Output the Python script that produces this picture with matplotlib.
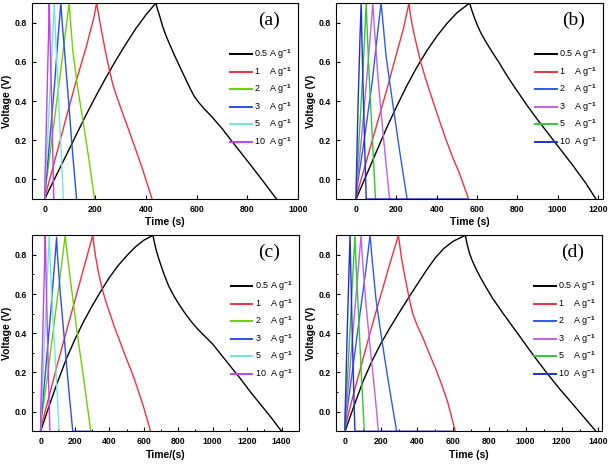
import matplotlib
matplotlib.use("Agg")
import matplotlib.pyplot as plt
from matplotlib.ticker import MultipleLocator

plt.rcParams['font.family'] = 'Liberation Sans'
plt.rcParams['font.weight'] = 'bold'
plt.rcParams['mathtext.fontset'] = 'custom'
plt.rcParams['mathtext.rm'] = 'Liberation Sans'
plt.rcParams['mathtext.it'] = 'Liberation Sans:italic'

rates = ["0.5 A g$^{-1}$", "1    A g$^{-1}$", "2    A g$^{-1}$",
         "3    A g$^{-1}$", "5    A g$^{-1}$", "10  A g$^{-1}$"]

# ---- panel (a) ----
t_a05 = [0, 40, 80, 120, 160, 200, 240, 280, 320, 360, 400, 439,
         445, 455, 466, 480, 495, 510, 530, 550, 570, 590, 610, 630, 660, 700, 742, 800, 860, 915]
v_a05 = [-0.1, 0.005, 0.11, 0.215, 0.32, 0.42, 0.515, 0.605, 0.69, 0.77, 0.84, 0.9,
         0.87, 0.83, 0.78, 0.73, 0.685, 0.64, 0.585, 0.53, 0.475, 0.425, 0.39, 0.36, 0.32, 0.26, 0.19, 0.095, -0.005, -0.1]
t_a1 = [0, 3, 45, 84, 124, 165, 195, 205, 212, 220, 230, 242, 255, 270, 288, 310, 334, 360, 387, 424]
v_a1 = [-0.1, -0.08, 0.12, 0.31, 0.5, 0.68, 0.83, 0.9, 0.85, 0.79, 0.72, 0.64, 0.56, 0.48, 0.41, 0.33, 0.245, 0.15, 0.05, -0.1]
t_a2 = [0, 2, 30, 60, 85, 97, 103, 111, 130, 150, 175, 197]
v_a2 = [-0.1, -0.06, 0.22, 0.52, 0.78, 0.9, 0.79, 0.66, 0.47, 0.31, 0.10, -0.1]
t_a3 = [0, 2, 20, 40, 55, 64, 68, 80, 95, 110, 126]
v_a3 = [-0.1, -0.06, 0.2, 0.5, 0.76, 0.9, 0.82, 0.63, 0.39, 0.14, -0.1]
t_a5 = [0, 1, 12, 25, 38, 41, 50, 62, 74]
v_a5 = [-0.1, -0.05, 0.22, 0.55, 0.9, 0.8, 0.55, 0.22, -0.1]
t_a10 = [0, 1, 8, 15, 18, 20, 26, 31, 36]
v_a10 = [-0.1, -0.02, 0.35, 0.72, 0.9, 0.8, 0.48, 0.2, -0.1]

# ---- panel (b) ----
t_b05 = [0, 50, 100, 150, 200, 250, 300, 350, 400, 450, 500, 563,
         572, 585, 600, 620, 645, 675, 710, 745, 780, 810, 850, 900, 960, 1020, 1080, 1140, 1190]
v_b05 = [-0.1, 0.02, 0.14, 0.26, 0.37, 0.475, 0.57, 0.655, 0.73, 0.795, 0.85, 0.9,
         0.87, 0.83, 0.79, 0.745, 0.70, 0.65, 0.595, 0.535, 0.48, 0.435, 0.375, 0.305, 0.225, 0.145, 0.065, -0.02, -0.1]
t_b1 = [0, 5, 50, 100, 150, 200, 235, 262, 268, 278, 290, 305, 320, 340, 360, 381, 410, 447, 480, 513, 558]
v_b1 = [-0.1, -0.07, 0.09, 0.27, 0.45, 0.64, 0.77, 0.9, 0.85, 0.79, 0.73, 0.665, 0.6, 0.53, 0.465, 0.4, 0.31, 0.2, 0.11, 0.03, -0.1]
t_b2 = [0, 3, 40, 80, 110, 124, 135, 149, 180, 215, 253]
v_b2 = [-0.1, -0.05, 0.2, 0.5, 0.78, 0.9, 0.78, 0.625, 0.4, 0.15, -0.1]
t_b3 = [0, 2, 30, 60, 83, 90, 110, 135, 166]
v_b3 = [-0.1, -0.05, 0.25, 0.6, 0.9, 0.78, 0.5, 0.22, -0.1]
t_b5 = [0, 1, 20, 40, 50, 54, 65, 80, 96]
v_b5 = [-0.1, -0.03, 0.3, 0.68, 0.9, 0.78, 0.52, 0.22, -0.1]
t_b10 = [0, 1, 10, 20, 25, 28, 35, 43, 50, 555]
v_b10 = [-0.1, 0.0, 0.4, 0.75, 0.9, 0.75, 0.45, 0.15, -0.1, -0.1]

# ---- panel (c) ----
t_c05 = [0, 50, 100, 150, 200, 250, 300, 350, 400, 450, 500, 550, 600, 653,
         660, 670, 685, 700, 720, 745, 775, 810, 845, 880, 920, 960, 1000, 1050, 1100, 1160, 1220, 1280, 1340, 1400]
v_c05 = [-0.1, 0.03, 0.155, 0.27, 0.37, 0.46, 0.54, 0.615, 0.685, 0.745, 0.795, 0.84, 0.875, 0.9,
         0.87, 0.83, 0.785, 0.745, 0.695, 0.64, 0.59, 0.54, 0.495, 0.455, 0.415, 0.38, 0.345, 0.29, 0.235, 0.17, 0.1, 0.035, -0.03, -0.1]
t_c1 = [0, 8, 50, 100, 150, 200, 250, 303, 310, 320, 332, 345, 360, 380, 407, 430, 456, 490, 533, 565, 600, 639]
v_c1 = [-0.1, -0.06, 0.08, 0.25, 0.41, 0.57, 0.73, 0.9, 0.85, 0.79, 0.73, 0.675, 0.62, 0.56, 0.49, 0.43, 0.37, 0.29, 0.195, 0.115, 0.02, -0.1]
t_c2 = [0, 3, 40, 80, 115, 143, 150, 175, 210, 250, 292]
v_c2 = [-0.1, -0.05, 0.18, 0.46, 0.7, 0.9, 0.84, 0.66, 0.42, 0.17, -0.1]
t_c3 = [0, 2, 30, 60, 80, 93, 98, 115, 140, 165, 187, 290]
v_c3 = [-0.1, -0.05, 0.22, 0.52, 0.74, 0.89, 0.8, 0.6, 0.35, 0.1, -0.1, -0.1]
t_c5 = [0, 1, 15, 35, 50, 54, 70, 90, 108]
v_c5 = [-0.1, -0.05, 0.2, 0.6, 0.9, 0.8, 0.5, 0.2, -0.1]
t_c10 = [0, 1, 10, 20, 27, 30, 38, 46, 54]
v_c10 = [-0.1, 0.0, 0.3, 0.65, 0.9, 0.78, 0.45, 0.17, -0.1]

# ---- panel (d) ----
t_d05 = [0, 50, 100, 150, 200, 250, 300, 350, 400, 450, 500, 550, 600, 667,
         675, 689, 705, 725, 750, 781, 820, 873, 920, 966, 1010, 1058, 1120, 1190, 1260, 1330, 1390]
v_d05 = [-0.1, 0.03, 0.155, 0.26, 0.35, 0.43, 0.505, 0.578, 0.65, 0.72, 0.785, 0.835, 0.87, 0.9,
         0.86, 0.81, 0.77, 0.73, 0.685, 0.635, 0.575, 0.505, 0.445, 0.387, 0.33, 0.27, 0.195, 0.115, 0.04, -0.035, -0.1]
t_d1 = [0, 5, 50, 100, 150, 200, 250, 296, 303, 312, 325, 338, 355, 375, 400, 430, 465, 504, 535, 570, 611]
v_d1 = [-0.1, -0.06, 0.1, 0.27, 0.44, 0.6, 0.76, 0.9, 0.85, 0.79, 0.72, 0.66, 0.58, 0.5, 0.44, 0.38, 0.3, 0.215, 0.14, 0.045, -0.1]
t_d2 = [0, 3, 40, 80, 115, 139, 150, 172, 200, 227, 255, 286]
v_d2 = [-0.1, -0.05, 0.2, 0.48, 0.72, 0.9, 0.78, 0.57, 0.39, 0.23, 0.07, -0.1]
t_d3 = [0, 2, 30, 60, 89, 95, 115, 140, 165, 185]
v_d3 = [-0.1, -0.05, 0.25, 0.58, 0.9, 0.8, 0.56, 0.32, 0.1, -0.1]
t_d5 = [0, 1, 20, 40, 55, 59, 72, 90, 107]
v_d5 = [-0.1, -0.03, 0.28, 0.64, 0.9, 0.8, 0.55, 0.2, -0.1]
t_d10 = [0, 1, 12, 22, 28, 32, 40, 48, 55, 600]
v_d10 = [-0.1, 0.0, 0.4, 0.72, 0.9, 0.72, 0.4, 0.12, -0.1, -0.1]

colors_ac = ['black', '#f0303c', '#6cd000', '#2a4ee8', '#70e8d8', '#c040f0']
colors_bd = ['black', '#f0303c', '#2a5af0', '#c060e8', '#30c830', '#2030d0']


def draw_panel(ax, curves, colors, letter, xlim, xlabel, minor):
    for (t, v), c, lab in zip(curves, colors, rates):
        ax.plot(t, v, color=c, lw=1.0, label=lab)
    ax.set_xlim(*xlim)
    ax.set_ylim(-0.1, 0.9)
    ax.xaxis.set_major_locator(MultipleLocator(200))
    ax.yaxis.set_major_locator(MultipleLocator(0.2))
    if minor:
        ax.xaxis.set_minor_locator(MultipleLocator(100))
        ax.yaxis.set_minor_locator(MultipleLocator(0.1))
    ax.tick_params(which='major', direction='in', length=3, width=0.8, labelsize=6.3)
    ax.tick_params(which='minor', direction='in', length=1.6, width=0.7)
    ax.tick_params(axis='x', pad=4.3)
    ax.tick_params(axis='y', pad=3.6)
    for sp in ax.spines.values():
        sp.set_linewidth(0.8)
    ax.set_xlabel(xlabel, fontsize=7.5, fontweight='bold', labelpad=2.5)
    ax.set_ylabel("Voltage (V)", fontsize=7.5, fontweight='bold', labelpad=2)
    ax.text(0.89, 0.913, letter, transform=ax.transAxes, ha='center', va='center',
            fontsize=14, family='Liberation Serif', fontweight='normal')
    leg = ax.legend(loc='upper left', bbox_to_anchor=(0.745, 0.773), frameon=False,
                    prop={'size': 6.5, 'weight': 'normal'}, handlelength=2.4,
                    handletextpad=0.25, labelspacing=0.42, borderpad=0, borderaxespad=0)
    for ln in leg.get_lines():
        ln.set_linewidth(1.4)


fig = plt.figure(figsize=(6.14, 4.65), dpi=100)
ax_a = fig.add_axes([0.0521, 0.572, 0.4332, 0.4215])
ax_b = fig.add_axes([0.5472, 0.572, 0.4349, 0.4215])
ax_c = fig.add_axes([0.0521, 0.0725, 0.4344, 0.4215])
ax_d = fig.add_axes([0.5472, 0.0725, 0.4337, 0.4215])

draw_panel(ax_a, [(t_a05, v_a05), (t_a1, v_a1), (t_a2, v_a2), (t_a3, v_a3), (t_a5, v_a5), (t_a10, v_a10)],
           colors_ac, "(a)", (-50, 1000), "Time (s)", False)
draw_panel(ax_b, [(t_b05, v_b05), (t_b1, v_b1), (t_b2, v_b2), (t_b3, v_b3), (t_b5, v_b5), (t_b10, v_b10)],
           colors_bd, "(b)", (-100, 1225), "Time (s)", False)
draw_panel(ax_c, [(t_c05, v_c05), (t_c1, v_c1), (t_c2, v_c2), (t_c3, v_c3), (t_c5, v_c5), (t_c10, v_c10)],
           colors_ac, "(c)", (-50, 1500), "Time/(s)", True)
draw_panel(ax_d, [(t_d05, v_d05), (t_d1, v_d1), (t_d2, v_d2), (t_d3, v_d3), (t_d5, v_d5), (t_d10, v_d10)],
           colors_bd, "(d)", (-50, 1425), "Time (s)", True)

fig.savefig("out.png", dpi=100)
plt.close(fig)
